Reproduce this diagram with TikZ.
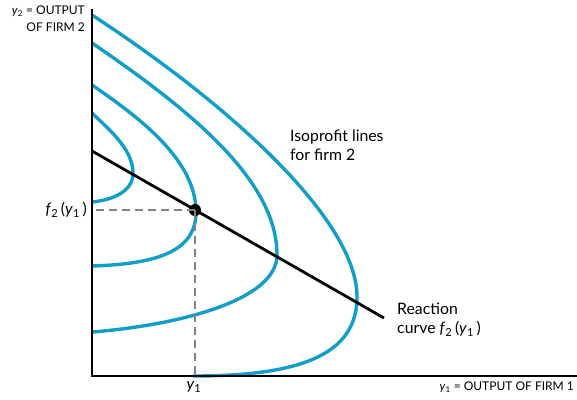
\documentclass[tikz,border=0pt]{standalone}
\usepackage{fontspec}
\setmainfont{Lato}
\definecolor{isoblue}{RGB}{17,159,201}
\begin{document}
\begin{tikzpicture}[x=1pt,y=-1pt,
  iso/.style={line width=3.4pt, draw=isoblue},
  axisline/.style={line width=2.2pt, black},
  guide/.style={draw={rgb,255:red,130;green,130;blue,130}, line width=1.2pt, dash pattern=on 8pt off 5pt},
  lbl/.style={font=\fontsize{15.8}{19}\selectfont, align=left, inner sep=0pt},
  axlbl/.style={font=\fontsize{12}{16.5}\selectfont, inner sep=0pt}]
\useasboundingbox (0,0) rectangle (577,399);
% axes anchors
\coordinate (O) at (92,376);
\coordinate (ytop) at (92,9);
\coordinate (xend) at (577,376);
% isoprofit curves
\draw[iso] (92,113) .. controls (106,127) and (133,148) .. (133,173)
                    .. controls (133,192) and (112,200) .. (92,202);
\draw[iso] (92,85) .. controls (140,118) and (196,160) .. (196,212)
                   .. controls (196,250) and (160,264) .. (92,266);
\draw[iso] (92,43) .. controls (190,110) and (277,180) .. (277,255)
                   .. controls (277,300) and (180,325) .. (92,332);
\draw[iso] (92,15) .. controls (230,105) and (357,220) .. (357,297)
                   .. controls (357,355) and (300,376) .. (193,376);
% axes
\draw[axisline] (ytop) -- (O) -- (xend);
% reaction curve
\coordinate (r0) at (92,151);
\coordinate (r1) at (384,318);
\draw[line width=2.8pt] (r0) -- (r1);
% equilibrium point and guides
\node[circle, fill=black, inner sep=0pt, minimum size=12pt] (eq) at (195,210) {};
\draw[guide] (eq.center) -- (eq.center -| O);
\draw[guide] (eq.center) -- (eq.center |- O);
% labels
\node[axlbl, align=right, anchor=north east] (ylab) at (85,6)
  {\textit{y}\textsubscript{2} = OUTPUT\\OF FIRM 2};
\node[axlbl, anchor=north east] (xlab) at (574,382)
  {\textit{y}\textsubscript{1} = OUTPUT OF FIRM 1};
\node[lbl, anchor=east] (flab) at (87,210)
  {\textit{f}\textsubscript{2}\,(\textit{y}\textsubscript{1}\,)};
\node[lbl, anchor=north] (y1lab) at (194,381)
  {\textit{y}\textsubscript{1}};
\node[lbl, anchor=north west] (isolab) at (290,130)
  {Isoprofit lines\\for firm 2};
\node[lbl, anchor=north west] (reactlab) at (397,303)
  {Reaction\\curve \textit{f}\textsubscript{2}\,(\textit{y}\textsubscript{1}\,)};
\end{tikzpicture}
\end{document}
